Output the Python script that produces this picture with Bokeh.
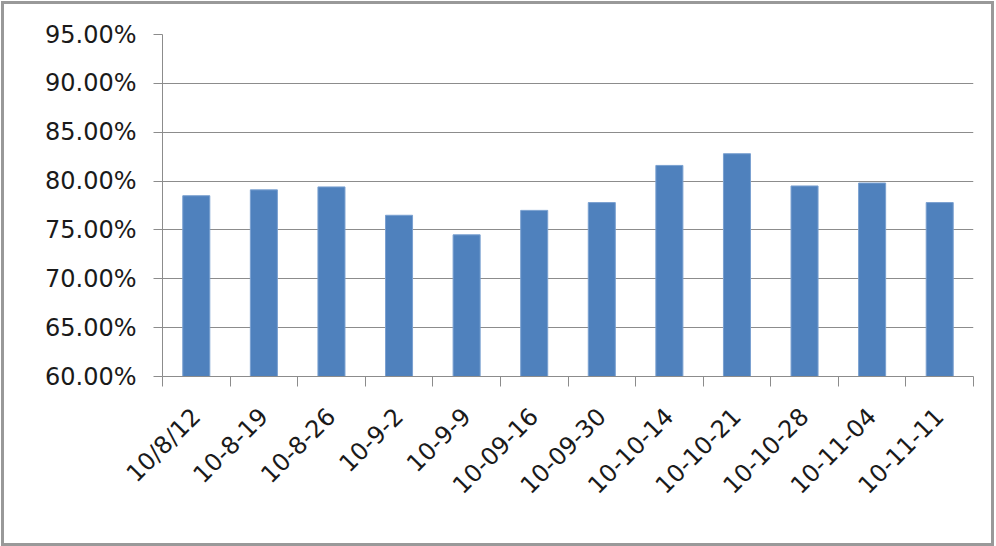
from math import pi
from bokeh.plotting import figure
from bokeh.models import (ColumnDataSource, Range1d, LinearAxis,
                          FixedTicker, NumeralTickFormatter)
from bokeh.embed import file_html
from bokeh.resources import INLINE

categories = ["10/8/12", "10-8-19", "10-8-26", "10-9-2", "10-9-9", "10-09-16",
              "10-09-30", "10-10-14", "10-10-21", "10-10-28", "10-11-04", "10-11-11"]
values = [0.785, 0.791, 0.794, 0.765, 0.745, 0.770,
          0.778, 0.816, 0.828, 0.795, 0.798, 0.778]
y_ticks = [0.60, 0.65, 0.70, 0.75, 0.80, 0.85, 0.90, 0.95]

FONT = "DejaVu Sans"
GRAY = "#8c8c8c"

n = len(categories)
centers = [i + 0.5 for i in range(n)]
bounds = list(range(n + 1))
src = ColumnDataSource(dict(x=centers, top=values, label=categories))

p = figure(width=993, height=545, output_backend="svg", toolbar_location=None,
           x_range=Range1d(0, n), y_range=Range1d(0.60, 0.95),
           x_axis_location=None)
p.styles = {"border": "3px solid #999999", "margin": "1px 0 0 1px"}
p.min_border_left = 158
p.min_border_right = 24
p.min_border_top = 30
p.min_border_bottom = 173
p.outline_line_color = None
p.background_fill_color = "white"
p.border_fill_color = "white"

p.vbar(x="x", top="top", bottom=0.60, width=0.4, source=src,
       fill_color="#4f81bd", line_color="#7aa0d0", line_width=1)

# y axis
p.yaxis.ticker = FixedTicker(ticks=y_ticks)
p.yaxis.formatter = NumeralTickFormatter(format="0.00%")
p.yaxis.axis_line_color = GRAY
p.yaxis.major_tick_line_color = GRAY
p.yaxis.major_tick_in = 0
p.yaxis.major_tick_out = 9
p.yaxis.minor_tick_line_color = None
p.yaxis.major_label_standoff = 17
p.yaxis.major_label_text_font = FONT
p.yaxis.major_label_text_font_size = "24px"
p.yaxis.major_label_text_color = "#1a1a1a"

p.ygrid.ticker = FixedTicker(ticks=y_ticks)
p.ygrid.grid_line_color = GRAY
p.xgrid.grid_line_color = None

# axis line with tick marks at category boundaries (minor ticks only, no labels)
tick_axis = LinearAxis(ticker=FixedTicker(ticks=[], minor_ticks=bounds),
                       axis_line_color=GRAY,
                       major_tick_line_color=None,
                       minor_tick_line_color=GRAY,
                       minor_tick_in=0, minor_tick_out=10,
                       major_label_standoff=0)
p.add_layout(tick_axis, "below")

# category labels at the category centres
label_axis = LinearAxis(ticker=FixedTicker(ticks=centers),
                        major_label_overrides={c: l for c, l in zip(centers, categories)},
                        axis_line_color=None, major_tick_line_color=None,
                        minor_tick_line_color=None,
                        major_tick_out=0, major_tick_in=0,
                        major_label_orientation=pi / 4,
                        major_label_standoff=26,
                        major_label_text_font=FONT,
                        major_label_text_font_size="24px",
                        major_label_text_color="#1a1a1a")
p.add_layout(label_axis, "below")

open("out.html", "w").write(file_html(p, INLINE))
